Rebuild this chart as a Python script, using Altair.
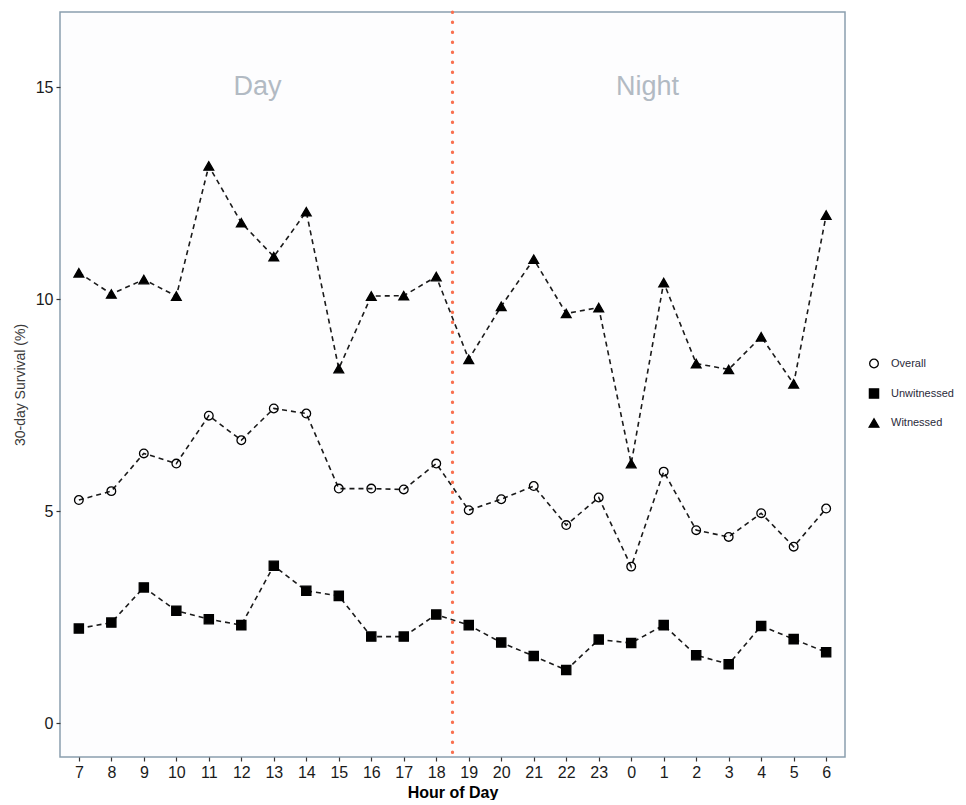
import altair as alt
import pandas as pd

hours = [7, 8, 9, 10, 11, 12, 13, 14, 15, 16, 17, 18,
         19, 20, 21, 22, 23, 0, 1, 2, 3, 4, 5, 6]
overall = [5.26, 5.47, 6.36, 6.12, 7.25, 6.67, 7.42, 7.30, 5.53, 5.53, 5.51, 6.12,
           5.02, 5.28, 5.59, 4.67, 5.32, 3.69, 5.93, 4.55, 4.39, 4.95, 4.16, 5.06]
unwitnessed = [2.23, 2.37, 3.20, 2.65, 2.45, 2.31, 3.71, 3.12, 3.00, 2.04, 2.04, 2.56,
               2.31, 1.90, 1.58, 1.25, 1.97, 1.89, 2.31, 1.60, 1.39, 2.29, 1.98, 1.67]
witnessed = [10.62, 10.12, 10.46, 10.07, 13.14, 11.80, 11.00, 12.06, 8.36, 10.07, 10.08, 10.53,
             8.58, 9.83, 10.94, 9.66, 9.80, 6.12, 10.39, 8.48, 8.34, 9.11, 8.00, 11.98]
series_names = ["Overall", "Unwitnessed", "Witnessed"]
period_labels = ["Day", "Night"]
period_x = [5.5, 17.5]
period_y = [15, 15]
divider_x = [11.5]
y_ticks = [0, 5, 10, 15]

rows = []
for name, vals in zip(series_names, [overall, unwitnessed, witnessed]):
    for i, (h, v) in enumerate(zip(hours, vals)):
        rows.append({"idx": i, "hour": h, "value": v, "series": name})
df = pd.DataFrame(rows)

label_expr = "[" + ",".join("'%d'" % h for h in hours) + "][datum.value]"

x_scale = alt.Scale(domain=[-0.58, 23.58], nice=False, zero=False)
y_scale = alt.Scale(domain=[-0.8, 16.77], nice=False, zero=False)

x_axis = alt.Axis(values=list(range(len(hours))), labelExpr=label_expr,
                  labelOverlap=False, labelFlush=False, tickCount=len(hours),
                  title="Hour of Day", titleFontWeight="bold",
                  titleFontSize=16, titleColor="#000", titlePadding=4)
y_axis = alt.Axis(values=y_ticks, title="30-day Survival (%)",
                  labelOverlap=False, labelFlush=False,
                  titleFontWeight="normal", titleFontSize=14,
                  titleColor="#3a3a3a", titlePadding=8)

x_enc = alt.X("idx:Q", scale=x_scale, axis=x_axis)
y_enc = alt.Y("value:Q", scale=y_scale, axis=y_axis)

base = alt.Chart(df)

lines = base.mark_line(color="#1a1a1a", strokeDash=[5, 4], strokeWidth=1.6).encode(
    x=x_enc, y=y_enc, detail="series:N", order="idx:Q"
)

points = base.mark_point(strokeWidth=1.3, opacity=1, fillOpacity=1, strokeOpacity=1).encode(
    x=x_enc, y=y_enc,
    shape=alt.Shape("series:N", title=None,
                    scale=alt.Scale(domain=series_names, range=["circle", "square", "triangle-up"])),
    fill=alt.Fill("series:N", title=None,
                  scale=alt.Scale(domain=series_names, range=["transparent", "black", "black"])),
    stroke=alt.Stroke("series:N", title=None,
                      scale=alt.Scale(domain=series_names, range=["black", "black", "black"])),
    size=alt.Size("series:N", title=None,
                  scale=alt.Scale(domain=series_names, range=[75, 95, 115])),
)

vdf = pd.DataFrame({"x": divider_x})
vline = alt.Chart(vdf).mark_rule(color="#F9704F", strokeWidth=3.2, strokeDash=[0.5, 9.5],
                                 strokeCap="round").encode(
    x=alt.X("x:Q", scale=x_scale, axis=x_axis)
)

tdf = pd.DataFrame({"label": period_labels, "x": period_x, "y": period_y})
texts = alt.Chart(tdf).mark_text(fontSize=27, color="#B2BAC3", font="Liberation Sans").encode(
    x=alt.X("x:Q", scale=x_scale, axis=x_axis),
    y=alt.Y("y:Q", scale=y_scale, axis=y_axis),
    text="label:N"
)

chart = alt.layer(lines, points, vline, texts).properties(
    width=785, height=745,
    padding={"left": 5, "top": 2, "right": 0, "bottom": 0},
    background="white",
).configure_view(
    stroke="#8A9FAE", strokeWidth=1.5, fill="#FDFDFE"
).configure_axis(
    grid=False, domain=False, labelFont="Liberation Sans", titleFont="Liberation Sans",
    labelFontSize=16, labelColor="#1a1a1a", tickColor="#333", tickSize=4, tickWidth=1.2,
    labelPadding=3,
).configure_legend(
    orient="none", legendX=800, legendY=346, labelFont="Liberation Sans",
    labelFontSize=11, labelColor="#2a2a3a", symbolStrokeColor="black",
    symbolStrokeWidth=1.3, rowPadding=15, labelOffset=11, symbolOffset=8,
)

chart.save("out.html", embed_options={"renderer": "svg", "actions": False})
